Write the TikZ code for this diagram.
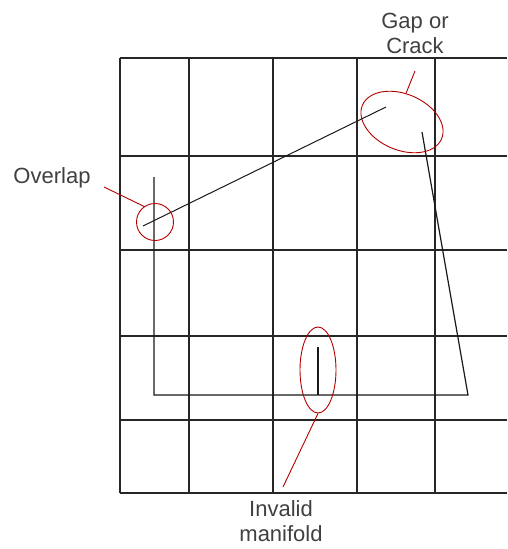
\documentclass[tikz,border=0pt]{standalone}
\usepackage{fontspec}
\setmainfont{Liberation Sans}
\usetikzlibrary{shapes.geometric}

\tikzset{
  gridline/.style={line width=1.3pt, black!85},
  edgeline/.style={line width=1.2pt, black!90},
  ring/.style={draw=red!70!black, line width=0.9pt, inner sep=0pt},
  leader/.style={red!70!black, line width=0.9pt},
  label/.style={font=\fontsize{22}{25}\selectfont, text=black!75, align=center}
}

\begin{document}
\begin{tikzpicture}[x=1pt, y=-1pt]
            \useasboundingbox (0,0) rectangle (507,549);
            % ==== GRID ====
            \foreach \gx in {120,189,273,357,435}
                \draw[gridline] (\gx,58) -- (\gx,493);
            \foreach \gy in {58,156,250,336,420,493}
                \draw[gridline] (120,\gy) -- (507,\gy);
            % ==== EDGES ====
            \coordinate (top) at (154,177);
            \coordinate (botleft) at (154,395);
            \coordinate (botright) at (468,395);
            \coordinate (crackend) at (422,132);
            \coordinate (lapstart) at (143,226);
            \coordinate (lapend) at (386,107);
            \coordinate (spiketop) at (318,347);
            \coordinate (spikebot) at (318,395);
            \draw[edgeline] (top) -- (botleft) -- (botright) -- (crackend);
            \draw[edgeline, line width=1pt] (lapstart) -- (lapend);
            \draw[edgeline] (spiketop) -- (spikebot);

            % ==== MARKS ====
            \node[ring, circle, minimum size=37pt] (ovring) at (155,222) {};
            \node[ring, ellipse, rotate=-23, minimum width=86pt, minimum height=56pt] (gapring) at (402,122) {};
            \node[ring, ellipse, minimum width=36pt, minimum height=86pt] (invring) at (318,370) {};

            % ==== LABELS ====
            \node[label] (ovtext) at (52,178) {Overlap};
            \node[label] (gaptext) at (415,33) {Gap or\\Crack};
            \node[label] (invtext) at (281,521) {Invalid\\manifold};
            \coordinate (ovtip) at (104,187);
            \coordinate (gaptip) at (415,71);
            \coordinate (invtip) at (283,487);
            \draw[leader] (ovring.125) -- (ovtip);
            \draw[leader] (gapring.105) -- (gaptip);
            \draw[leader] (invring.south) -- (invtip);
         \end{tikzpicture}
\end{document}
